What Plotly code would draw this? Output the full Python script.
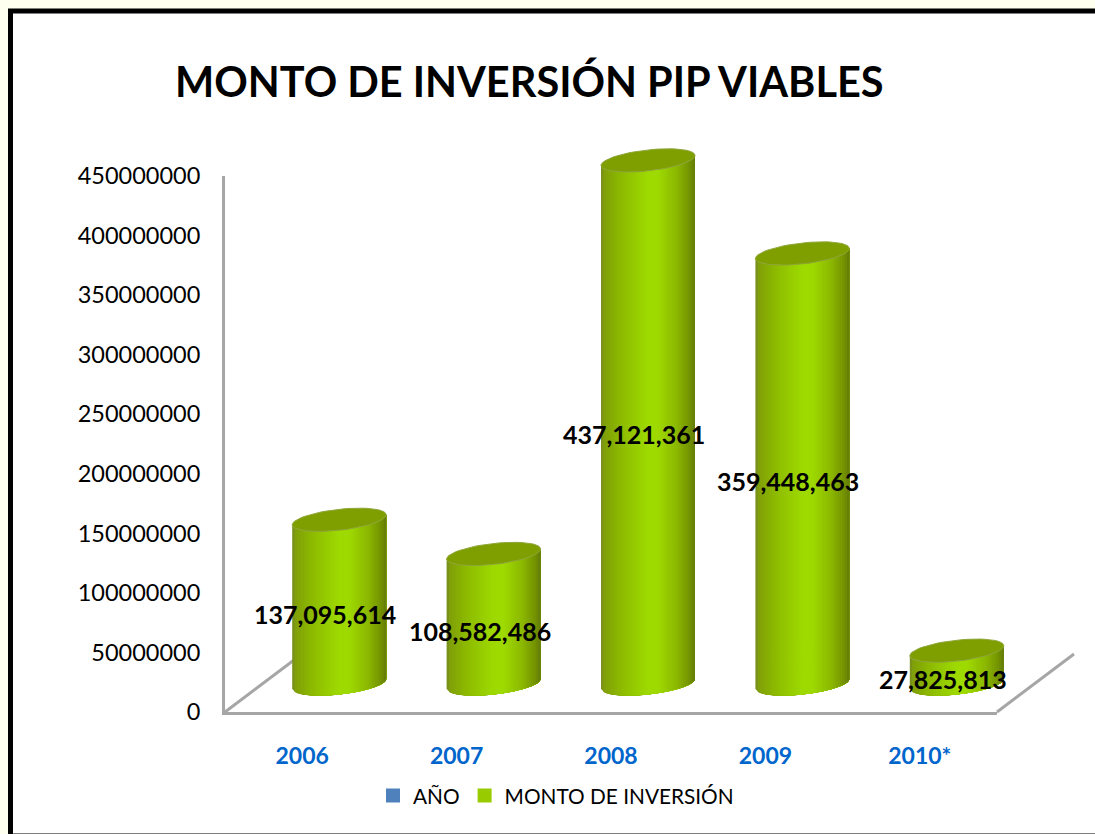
import math
import plotly.graph_objects as go

# ---- data ----
categories = ["2006", "2007", "2008", "2009", "2010*"]
monto = [137095614, 108582486, 437121361, 359448463, 27825813]
y_ticks = [0, 50000000, 100000000, 150000000, 200000000, 250000000, 300000000, 350000000, 400000000, 450000000]
title_text = "MONTO DE INVERSIÓN PIP VIABLES"
legend_names = ["AÑO", "MONTO DE INVERSIÓN"]

# ---- layout in pixels ----
W, H = 1095, 834
FONT = "Lato"
YMAX = 450000000
fx = lambda p: p / W
fy = lambda p: 1 - p / H
AX_L, AX_R, AX_B, AX_T = 225, 997, 712, 176      # front plane
BAR_DX, BAR_B, BAR_T = 37, 684, 145              # plane where the cylinders stand
PAD = 30                                         # room under the cylinders for the rounded base
X_PER_PX = 5 / (AX_R - AX_L)
Y_PER_PX = YMAX / (BAR_B - BAR_T)
HALF = 47 * X_PER_PX     # cylinder half width
ELL_B = 10.5 * Y_PER_PX  # ellipse half height
ELL_K = 5 * Y_PER_PX     # ellipse tilt

stops = [(0.0, (120, 140, 35)), (0.04, (128, 160, 8)), (0.2, (140, 185, 0)), (0.5, (158, 218, 0)),
         (0.6, (158, 218, 0)), (0.8, (140, 185, 0)), (0.93, (118, 150, 0)), (1.0, (100, 125, 10))]

def shade(t):
    for (a, ca), (b, cb) in zip(stops, stops[1:]):
        if t <= b:
            r = (t - a) / (b - a)
            return "rgb(%d,%d,%d)" % tuple(round(p + (q - p) * r) for p, q in zip(ca, cb))
    return "rgb(%d,%d,%d)" % stops[-1][1]

def front(u):
    return ELL_K * u - ELL_B * math.sqrt(max(0.0, 1 - u * u))

fig = go.Figure()

# legend entries
for name, col in zip(legend_names, ["#4F81BD", "#99CC00"]):
    fig.add_trace(go.Scatter(x=[None], y=[None], name=name, mode="markers",
                             marker=dict(symbol="square", size=14, color=col),
                             xaxis="x", yaxis="y"))

# cylinder bodies: colour bands painted left to right
N = 40
for i in range(N):
    u0 = -1 + 2 * i / N
    us = [u0 + (1 - u0) * j / 24 for j in range(25)]
    xs, ys = [], []
    for c, v in enumerate(monto):
        xs += [c + HALF * u for u in us] + [c + HALF * u for u in reversed(us)] + [None]
        ys += [front(u) for u in us] + [v + front(u) for u in reversed(us)] + [None]
    fig.add_trace(go.Scatter(x=xs, y=ys, mode="lines", fill="toself", line=dict(width=0),
                             fillcolor=shade((i + 0.5) / N), showlegend=False, hoverinfo="skip",
                             xaxis="x2", yaxis="y2"))

# cylinder tops
xs, ys = [], []
for c, v in enumerate(monto):
    for j in range(61):
        t = 2 * math.pi * j / 60
        xs.append(c + HALF * math.cos(t))
        ys.append(v + ELL_K * math.cos(t) + ELL_B * math.sin(t))
    xs.append(None)
    ys.append(None)
fig.add_trace(go.Scatter(x=xs, y=ys, mode="lines", fill="toself", fillcolor="#7F9F00",
                         line=dict(width=1, color="#8FA63A"), showlegend=False, hoverinfo="skip",
                         xaxis="x2", yaxis="y2"))

# value labels
annotations = [dict(x=c, y=v / 2, xref="x2", yref="y2", text=f"<b>{v:,}</b>", showarrow=False,
                    xshift=-14, yshift=-12, font=dict(family=FONT, size=25, color="#000000"))
               for c, v in enumerate(monto)]

shapes = [
    dict(type="rect", xref="paper", yref="paper", x0=fx(10.5), x1=fx(1110), y0=fy(11), y1=fy(836),
         line=dict(color="#000000", width=5), fillcolor="#FFFFFF", layer="below"),
    dict(type="line", xref="paper", yref="paper", x0=fx(AX_L), y0=fy(AX_B), x1=fx(AX_L + 77), y1=fy(AX_B - 58),
         line=dict(color="#A6A6A6", width=3), layer="below"),
    dict(type="line", xref="paper", yref="paper", x0=fx(AX_R), y0=fy(AX_B), x1=fx(AX_R + 77), y1=fy(AX_B - 58),
         line=dict(color="#A6A6A6", width=3), layer="below"),
]

fig.update_layout(
    width=W, height=H, margin=dict(l=0, r=0, t=0, b=0, autoexpand=False), autosize=False,
    paper_bgcolor="#FFFFF0", plot_bgcolor="rgba(0,0,0,0)",
    font=dict(family=FONT, color="#000000"),
    title=dict(text=f"<b>{title_text}</b>", x=fx(175), xref="paper", xanchor="left",
               y=fy(82), yref="paper", yanchor="middle", font=dict(family=FONT, size=41.5, color="#000000")),
    xaxis=dict(domain=[fx(AX_L), fx(AX_R)], range=[-0.5, 4.5], anchor="y",
               tickmode="array", tickvals=list(range(5)), ticktext=[f"<b>{c}</b>" for c in categories],
               tickfont=dict(family=FONT, size=23, color="#0066CC"), ticks="", ticklabelstandoff=21,
               showgrid=False, zeroline=False, showline=True, linecolor="#A6A6A6", linewidth=3),
    yaxis=dict(domain=[fy(AX_B), fy(AX_T)], range=[0, YMAX], anchor="x",
               tickmode="array", tickvals=y_ticks, ticktext=[str(t) for t in y_ticks],
               tickfont=dict(family=FONT, size=23.5, color="#000000"), ticks="", ticklabelstandoff=17,
               showgrid=False, zeroline=False, showline=True, linecolor="#A6A6A6", linewidth=3),
    xaxis2=dict(domain=[fx(AX_L + BAR_DX), fx(AX_R + BAR_DX)], range=[-0.5, 4.5], anchor="y2", visible=False),
    yaxis2=dict(domain=[fy(BAR_B + PAD), fy(BAR_T)], range=[-PAD * Y_PER_PX, YMAX], anchor="x2", visible=False),
    legend=dict(orientation="h", x=fx(373), y=fy(796), xanchor="left", yanchor="middle",
                font=dict(family=FONT, size=20.8, color="#000000"), bgcolor="rgba(0,0,0,0)"),
    annotations=annotations, shapes=shapes,
)

fig.write_html("out.html", config=dict(displayModeBar=False), post_script="document.body.style.margin='0';")
